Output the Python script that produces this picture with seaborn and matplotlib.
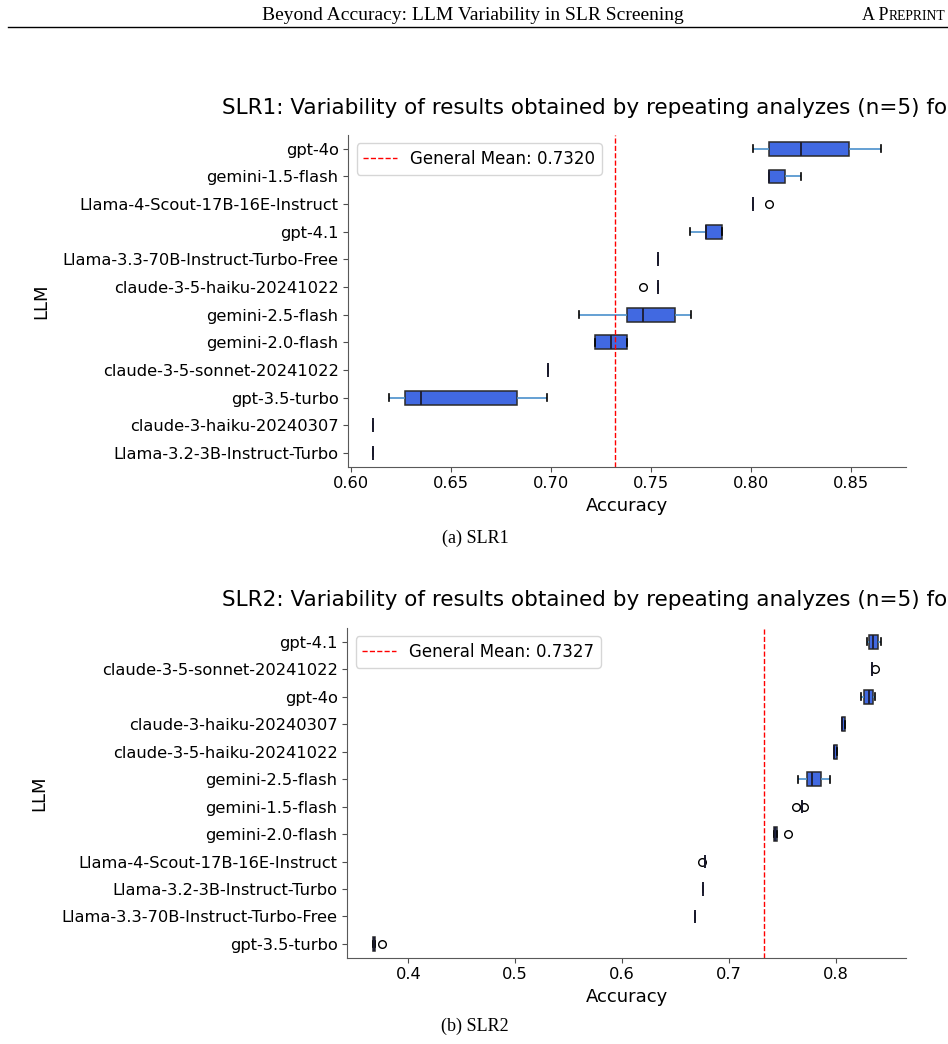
import matplotlib
matplotlib.use('Agg')  # headless
import numpy as np
import pandas as pd
import seaborn as sns
import matplotlib.pyplot as plt
from matplotlib.lines import Line2D

# ---- SLR1: accuracy of the 5 repeated runs per LLM ----
slr1_models = ["gpt-4o", "gemini-1.5-flash", "Llama-4-Scout-17B-16E-Instruct", "gpt-4.1",
               "Llama-3.3-70B-Instruct-Turbo-Free", "claude-3-5-haiku-20241022",
               "gemini-2.5-flash", "gemini-2.0-flash", "claude-3-5-sonnet-20241022",
               "gpt-3.5-turbo", "claude-3-haiku-20240307", "Llama-3.2-3B-Instruct-Turbo"]
slr1_runs = [
    [0.801, 0.809, 0.825, 0.849, 0.865],
    [0.809, 0.809, 0.809, 0.817, 0.825],
    [0.801, 0.801, 0.801, 0.801, 0.809],
    [0.7695, 0.7775, 0.7775, 0.7855, 0.7855],
    [0.7537, 0.7537, 0.7537, 0.7537, 0.7537],
    [0.7458, 0.7537, 0.7537, 0.7537, 0.7537],
    [0.714, 0.738, 0.746, 0.762, 0.770],
    [0.722, 0.722, 0.730, 0.738, 0.738],
    [0.6983, 0.6983, 0.6983, 0.6983, 0.6983],
    [0.619, 0.627, 0.635, 0.683, 0.698],
    [0.611, 0.611, 0.611, 0.611, 0.611],
    [0.611, 0.611, 0.611, 0.611, 0.611],
]
slr1_mean = 0.7320

# ---- SLR2 ----
slr2_models = ["gpt-4.1", "claude-3-5-sonnet-20241022", "gpt-4o", "claude-3-haiku-20240307",
               "claude-3-5-haiku-20241022", "gemini-2.5-flash", "gemini-1.5-flash",
               "gemini-2.0-flash", "Llama-4-Scout-17B-16E-Instruct",
               "Llama-3.2-3B-Instruct-Turbo", "Llama-3.3-70B-Instruct-Turbo-Free",
               "gpt-3.5-turbo"]
slr2_runs = [
    [0.829, 0.8315, 0.835, 0.8395, 0.842],
    [0.834, 0.834, 0.834, 0.834, 0.837],
    [0.824, 0.8265, 0.8315, 0.8345, 0.837],
    [0.806, 0.806, 0.806, 0.8087, 0.8087],
    [0.798, 0.798, 0.798, 0.801, 0.801],
    [0.765, 0.773, 0.778, 0.786, 0.795],
    [0.7626, 0.768, 0.768, 0.768, 0.7705],
    [0.742, 0.742, 0.743, 0.745, 0.755],
    [0.6746, 0.6774, 0.6774, 0.6774, 0.6774],
    [0.6758, 0.6758, 0.6758, 0.6758, 0.6758],
    [0.6683, 0.6683, 0.6683, 0.6683, 0.6683],
    [0.367, 0.367, 0.368, 0.369, 0.375],
]
slr2_mean = 0.7327

# the page crop cuts the titles off after "fo"
title_tmpl = "{}: Variability of results obtained by repeating analyzes (n=5) fo"

W, H = 948, 1044
fig = plt.figure(figsize=(W / 100, H / 100), dpi=100)
plt.rcParams['font.family'] = ['DejaVu Sans']


def px(x0, y0, x1, y1):
    # pixel box -> figure fraction rect
    return [x0 / W, 1 - y1 / H, (x1 - x0) / W, (y1 - y0) / H]


def draw(ax, models, runs, mean, xlim, xticks, fmt):
    df = pd.DataFrame({"LLM": np.repeat(models, [len(r) for r in runs]),
                       "Accuracy": np.concatenate(runs)})
    sns.boxplot(data=df, x="Accuracy", y="LLM", order=models, orient="h", ax=ax,
                color="royalblue", saturation=1, width=0.5, linewidth=1.1,
                boxprops=dict(facecolor="royalblue", edgecolor="#2a2a2a"),
                medianprops=dict(color="#1c1c30", linewidth=1.3),
                whiskerprops=dict(color="#4a90cc", linewidth=1.2),
                capprops=dict(color="black", linewidth=1.2),
                flierprops=dict(marker="o", markerfacecolor="none",
                                markeredgecolor="black", markersize=5.5))
    ax.axvline(mean, color="red", ls="--", lw=1, label=f"General Mean: {mean:.4f}")
    ax.set_xlim(*xlim)
    ax.set_xticks(xticks)
    ax.set_xticklabels([fmt.format(t) for t in xticks])
    ax.tick_params(labelsize=11.7, color="0.3")
    for s in ["top", "right"]:
        ax.spines[s].set_visible(False)
    for s in ["left", "bottom"]:
        ax.spines[s].set_color("0.35")
    ax.set_xlabel("Accuracy", fontsize=13)
    ax.set_ylabel("LLM", fontsize=13)
    ax.yaxis.set_label_coords(-0.535, 0.5)
    ax.legend(loc="upper left", fontsize=12)


ax1 = fig.add_axes(px(348.3, 135, 906, 466.7))
draw(ax1, slr1_models, slr1_runs, slr1_mean, (0.5987, 0.8775),
     [0.60, 0.65, 0.70, 0.75, 0.80, 0.85], "{:.2f}")

ax2 = fig.add_axes(px(347.3, 628, 906, 957.7))
draw(ax2, slr2_models, slr2_runs, slr2_mean, (0.3429, 0.8658),
     [0.4, 0.5, 0.6, 0.7, 0.8], "{:.1f}")

# chart titles
fig.text(222 / W, 1 - 108 / H, title_tmpl.format("SLR1"), ha="left", va="center", fontsize=15.5)
fig.text(222 / W, 1 - 600 / H, title_tmpl.format("SLR2"), ha="left", va="center", fontsize=15.5)

# page header and sub-captions
serif = ["Liberation Serif", "DejaVu Serif"]
fig.text(473 / W, 1 - 20 / H, "Beyond Accuracy: LLM Variability in SLR Screening",
         ha="center", va="baseline", fontsize=14, family=serif)
t = fig.text(945 / W, 1 - 20 / H, "REPRINT", ha="right", va="baseline", fontsize=9.8, family=serif)
fig.canvas.draw()
bb = t.get_window_extent()
fig.text(bb.x0 / W, 1 - 20 / H, "A P", ha="right", va="baseline", fontsize=13, family=serif)
fig.add_artist(Line2D([8 / W, 1], [1 - 27 / H, 1 - 27 / H], transform=fig.transFigure,
                      color="black", lw=1))
fig.text(475 / W, 1 - 538 / H, "(a) SLR1", ha="center", va="center", fontsize=13, family=serif)
fig.text(475 / W, 1 - 1026 / H, "(b) SLR2", ha="center", va="center", fontsize=13, family=serif)

fig.savefig("out.png", dpi=100)
